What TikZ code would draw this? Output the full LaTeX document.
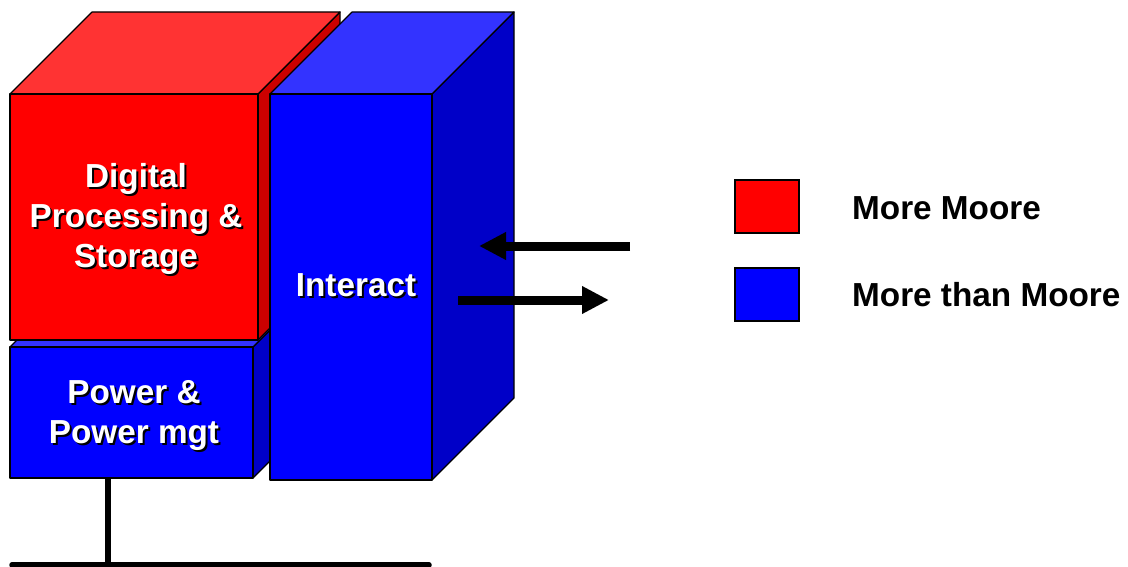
\documentclass[tikz,border=0pt]{standalone}
\usepackage{fontspec}
\setmainfont{Liberation Sans}
\usetikzlibrary{arrows.meta}
\definecolor{rfront}{HTML}{FF0000}
\definecolor{rtop}{HTML}{FF3333}
\definecolor{rside}{HTML}{CC0000}
\definecolor{bfront}{HTML}{0000FF}
\definecolor{btop}{HTML}{3333FF}
\definecolor{bside}{HTML}{0000C8}
\begin{document}
\begin{tikzpicture}[x=1pt,y=-1pt,
  face/.style={draw=black,line width=1.2pt,line join=round},
  lbl/.style={text=white,font=\fontsize{33.3pt}{40pt}\selectfont\bfseries,align=center,inner sep=0pt},
  shd/.style={lbl,text=black},
  legtxt/.style={text=black,font=\fontsize{33.3pt}{40pt}\selectfont\bfseries,anchor=base west,inner sep=0pt},
  legbox/.style={draw=black,line width=1.2pt,minimum width=64pt,minimum height=53pt,inner sep=0pt},
  arr/.style={line width=9pt,-{Triangle[length=27pt,width=26pt]}},
  bus/.style={line width=5.5pt}]
\useasboundingbox (0,0) rectangle (1128,567);
% Power box
\filldraw[face,fill=bside] (253,347) -- (335,265) -- (335,396) -- (253,478) -- cycle;
\filldraw[face,fill=btop] (10,347) -- (92,265) -- (335,265) -- (253,347) -- cycle;
\filldraw[face,fill=bfront] (10,347) rectangle (253,478);
% Red box
\filldraw[face,fill=rside] (258,94) -- (340,12) -- (340,258) -- (258,340) -- cycle;
\filldraw[face,fill=rtop] (10,94) -- (92,12) -- (340,12) -- (258,94) -- cycle;
\filldraw[face,fill=rfront] (10,94) rectangle (258,340);
% Interact box
\filldraw[face,fill=bside] (432,94) -- (514,12) -- (514,398) -- (432,480) -- cycle;
\filldraw[face,fill=btop] (270,94) -- (352,12) -- (514,12) -- (432,94) -- cycle;
\filldraw[face,fill=bfront] (270,94) rectangle (432,480);
% labels
\node[shd] at (138,221) {Digital\\Processing \&\\Storage};
\node[lbl] (dps) at (136,219) {Digital\\Processing \&\\Storage};
\node[shd] at (136,418) {Power \&\\Power mgt};
\node[lbl] (pwr) at (134,416) {Power \&\\Power mgt};
\node[shd] at (358,287) {Interact};
\node[lbl] (inter) at (356,285) {Interact};
% arrows
\coordinate (ina) at (630,246);
\coordinate (inb) at (479,246);
\coordinate (outa) at (458,300);
\coordinate (outb) at (609,300);
\draw[arr] (ina) -- (inb);
\draw[arr] (outa) -- (outb);
% bus
\coordinate (bt) at (108,478);
\coordinate (bb) at (108,565);
\coordinate (bl) at (12,565);
\coordinate (br) at (429,565);
\draw[bus] (bt) -- (bb);
\draw[bus,line cap=round] (bl) -- (br);
% legend
\node[legbox,fill=rfront] (lgr) at (767,206.5) {};
\node[legbox,fill=bfront] (lgb) at (767,294.5) {};
\node[legtxt] (tmm) at (852,219) {More Moore};
\node[legtxt] (tmtm) at (852,306) {More than Moore};
\end{tikzpicture}
\end{document}
